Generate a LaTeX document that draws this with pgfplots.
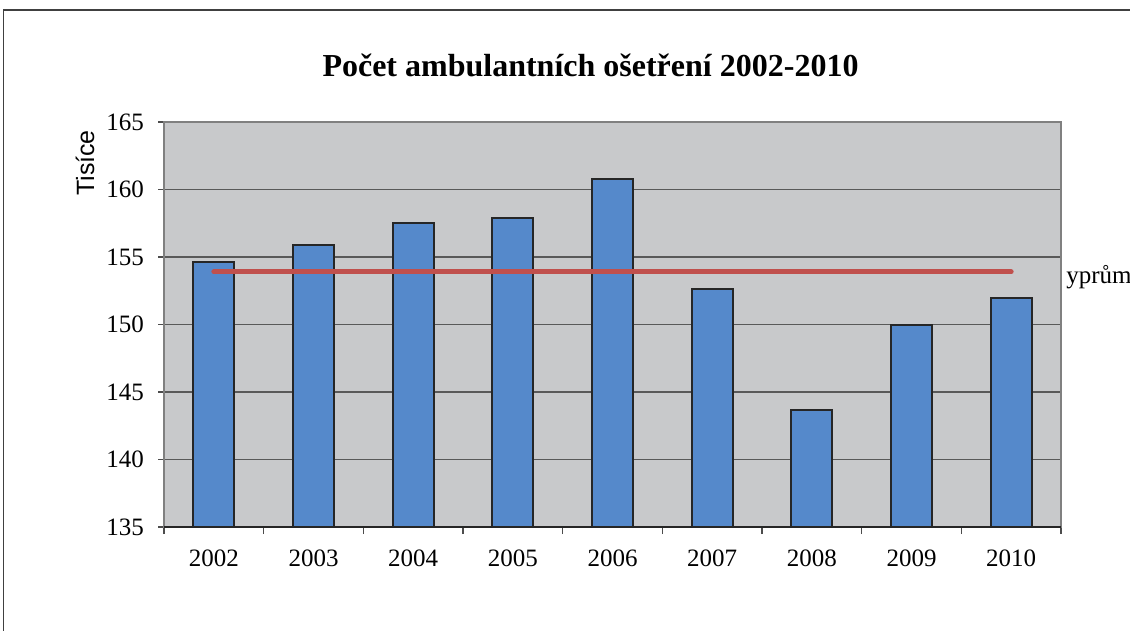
\documentclass[border=0pt]{standalone}
\usepackage{fontspec}
\setmainfont{Liberation Serif}
\newfontfamily\arialfont{Liberation Sans}
\newfontfamily\timesfont{Liberation Serif}
\usepackage{pgfplots}
\pgfplotsset{compat=1.18}
\definecolor{barblue}{RGB}{85,137,203}
\definecolor{avgred}{RGB}{192,80,77}
\definecolor{plotbg}{RGB}{200,201,203}
\begin{document}
\begin{tikzpicture}[x=1bp,y=1bp]
\path[use as bounding box] (0,0) rectangle (565,315);
\draw[line width=0.6bp, black!75] (1.75,-2) -- (1.75,310) -- (570,310);
\begin{axis}[
  at={(82bp,51.5bp)}, anchor=south west,
  scale only axis, width=448.5bp, height=202.5bp,
  xmin=-0.5, xmax=8.5, ymin=135, ymax=165,
  axis background/.style={fill=plotbg},
  axis line style={draw=black!50, line width=0.75bp},
  xtick={0,...,8},
  xticklabels={2002,2003,2004,2005,2006,2007,2008,2009,2010},
  major x tick style={draw=none},
  minor xtick={-0.5,0.5,...,8.5},
  minor tick length=3.5bp,
  major tick length=3bp,
  tick align=outside,
  xtick pos=bottom, ytick pos=left,
  ytick={135,140,145,150,155,160,165},
  yticklabel={\timesfont\pgfmathprintnumber[assume math mode=true]{\tick}},
  ymajorgrids,
  major grid style={draw=black!65, line width=0.7bp},
  tick style={draw=black!70, line width=0.7bp},
  ticklabel style={font=\timesfont\fontsize{12.5bp}{15bp}\selectfont},
  /pgf/number format/assume math mode=true,
  xticklabel style={yshift=-5bp},
  yticklabel style={xshift=-3.5bp},
]
\addplot[ybar, bar width=20.5bp, fill=barblue, draw=black!85, line width=1bp]
  coordinates {(0,154.6) (1,155.9) (2,157.5) (3,157.9) (4,160.8) (5,152.6) (6,143.7) (7,150.0) (8,152.0)};
\addplot[avgred, line width=2.5bp, line cap=round]
  coordinates {(0,153.9) (8,153.9)};
\end{axis}
\draw[black!85, line width=0.75bp] (82,51.5) -- (530.5,51.5);
\node[rotate=90, font=\arialfont\fontsize{12.5bp}{15bp}\selectfont] at (42.5,233.5) {Tisíce};
\node[anchor=base, font=\bfseries\fontsize{16bp}{19bp}\selectfont] at (295.25,277) {Počet ambulantních ošetření 2002-2010};
\node[anchor=base west, inner sep=0pt, font=\fontsize{12.5bp}{15bp}\selectfont] at (533,173.5) {yprům};
\end{tikzpicture}
\end{document}
